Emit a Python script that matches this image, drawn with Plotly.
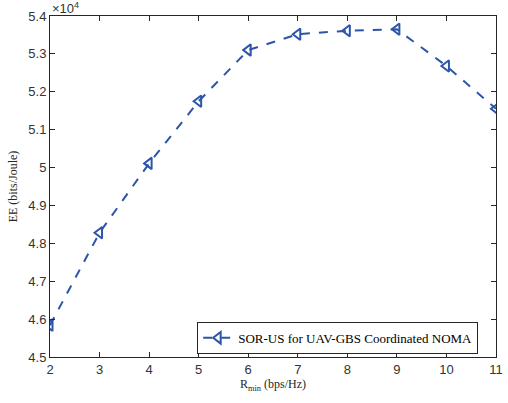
import plotly.graph_objects as go

r_min = [2, 3, 4, 5, 6, 7, 8, 9, 10, 11]
ee_1e4 = [4.584, 4.828, 5.011, 5.175, 5.310, 5.352, 5.361, 5.365, 5.268, 5.155]
y_ticks = [4.5, 4.6, 4.7, 4.8, 4.9, 5.0, 5.1, 5.2, 5.3, 5.4]
y_tick_labels = ["4.5", "4.6", "4.7", "4.8", "4.9", "5", "5.1", "5.2", "5.3", "5.4"]
x_ticks = [2, 3, 4, 5, 6, 7, 8, 9, 10, 11]

blue = "#2c55a8"
axc = "#262626"

fig = go.Figure()
fig.add_trace(go.Scatter(
    x=r_min, y=ee_1e4, mode="lines+markers",
    name="SOR-US for UAV-GBS Coordinated NOMA",
    line=dict(color=blue, width=2, dash="dash"),
    marker=dict(symbol="triangle-left-open", size=10, color=blue, line=dict(width=2, color=blue)),
))

axis_common = dict(
    showgrid=False, zeroline=False, showline=True, linecolor=axc, linewidth=1,
    mirror="ticks", ticks="inside", ticklen=5, tickcolor=axc, automargin=False,
    tickfont=dict(family="Liberation Sans, Arial", size=13, color="#333333"),
)
fig.update_xaxes(range=[2, 11], tickvals=x_ticks, **axis_common,
                 title=dict(text="R<sub>min</sub> (bps/Hz)", standoff=4,
                            font=dict(family="Liberation Serif, Times New Roman", size=12, color=axc)))
fig.update_yaxes(range=[4.5, 5.4], tickvals=y_ticks, ticktext=y_tick_labels, **axis_common,
                 title=dict(text="EE (bits/Joule)", standoff=8,
                            font=dict(family="Liberation Serif, Times New Roman", size=12, color=axc)))

fig.add_annotation(xref="paper", yref="paper", x=0, y=1, xanchor="left", yanchor="bottom",
                   text="×10<sup>4</sup>", showarrow=False, xshift=0, yshift=-2,
                   font=dict(family="Liberation Sans, Arial", size=13, color="#333333"))

fig.update_layout(
    width=508, height=403,
    margin=dict(l=50, r=12, t=16, b=46),
    paper_bgcolor="white", plot_bgcolor="white",
    showlegend=True,
    legend=dict(x=0.33, y=0.103, xanchor="left", yanchor="top",
                bordercolor=axc, borderwidth=1, bgcolor="white",
                font=dict(family="Liberation Serif, Times New Roman", size=13, color="black"),
                itemwidth=30, tracegroupgap=0),
)
fig.write_html("out.html", config={"displayModeBar": False},
               post_script="document.body.style.margin='0';")
